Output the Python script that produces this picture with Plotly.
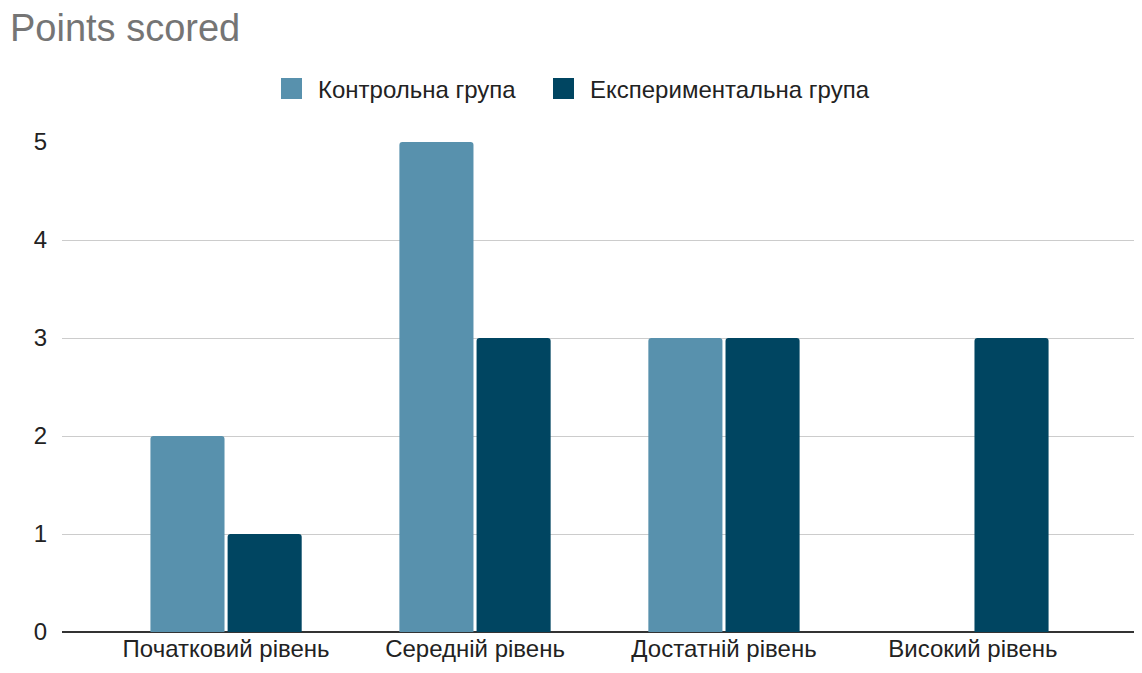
import plotly.graph_objects as go

categories = ["Початковий рівень", "Середній рівень", "Достатній рівень", "Високий рівень"]
control = [2, 5, 3, 0]
experimental = [1, 3, 3, 3]
series_names = ["Контрольна група", "Експериментальна група"]
colors = ["#5891ad", "#004561"]

W, H = 1134, 665  # page has an 8px body margin
fig = go.Figure()
for name, vals, col in zip(series_names, [control, experimental], colors):
    fig.add_trace(go.Bar(x=categories, y=vals, name=name, showlegend=False,
                         marker=dict(color=col, line=dict(width=0), cornerradius=3)))
# legend entries with larger square swatches, each in its own legend box
legend_refs = ["legend", "legend2"]
for name, col, lg in zip(series_names, colors, legend_refs):
    fig.add_trace(go.Scatter(x=[None], y=[None], mode="markers", name=name, legend=lg,
                             marker=dict(symbol="square", size=22, color=col,
                                         line=dict(color=col, width=5))))

font_family = "Liberation Sans, Arial, sans-serif"
legend_common = dict(orientation="h", xref="container", yref="container", y=1-81/H,
                     xanchor="left", yanchor="middle", font=dict(size=24, color="#222222"),
                     itemsizing="trace", itemwidth=43, bgcolor="rgba(0,0,0,0)")
fig.update_layout(
    width=W, height=H,
    paper_bgcolor="white", plot_bgcolor="white",
    margin=dict(l=54, r=5, t=134, b=41),
    barmode="group", bargap=0.38, bargroupgap=0.04,
    font=dict(family=font_family, size=24, color="#222222"),
    title=dict(text="Points scored", font=dict(size=38, color="#757575", family=font_family),
               xref="container", yref="container", x=2/W, y=1-20/H,
               xanchor="left", yanchor="middle"),
    legend=dict(x=257/W, **legend_common),
    legend2=dict(x=529/W, **legend_common),
    xaxis=dict(range=[-0.659, 3.659], showgrid=False, showline=False, ticks="",
               tickfont=dict(size=24, color="#222222")),
    yaxis=dict(range=[0, 5], dtick=1, showgrid=True, gridcolor="#cccccc", gridwidth=1,
               zeroline=True, zerolinecolor="#333333", zerolinewidth=1.5,
               showline=False, ticks="", ticklabelstandoff=14,
               tickfont=dict(size=24, color="#222222")),
)

fig.write_html("out.html")
